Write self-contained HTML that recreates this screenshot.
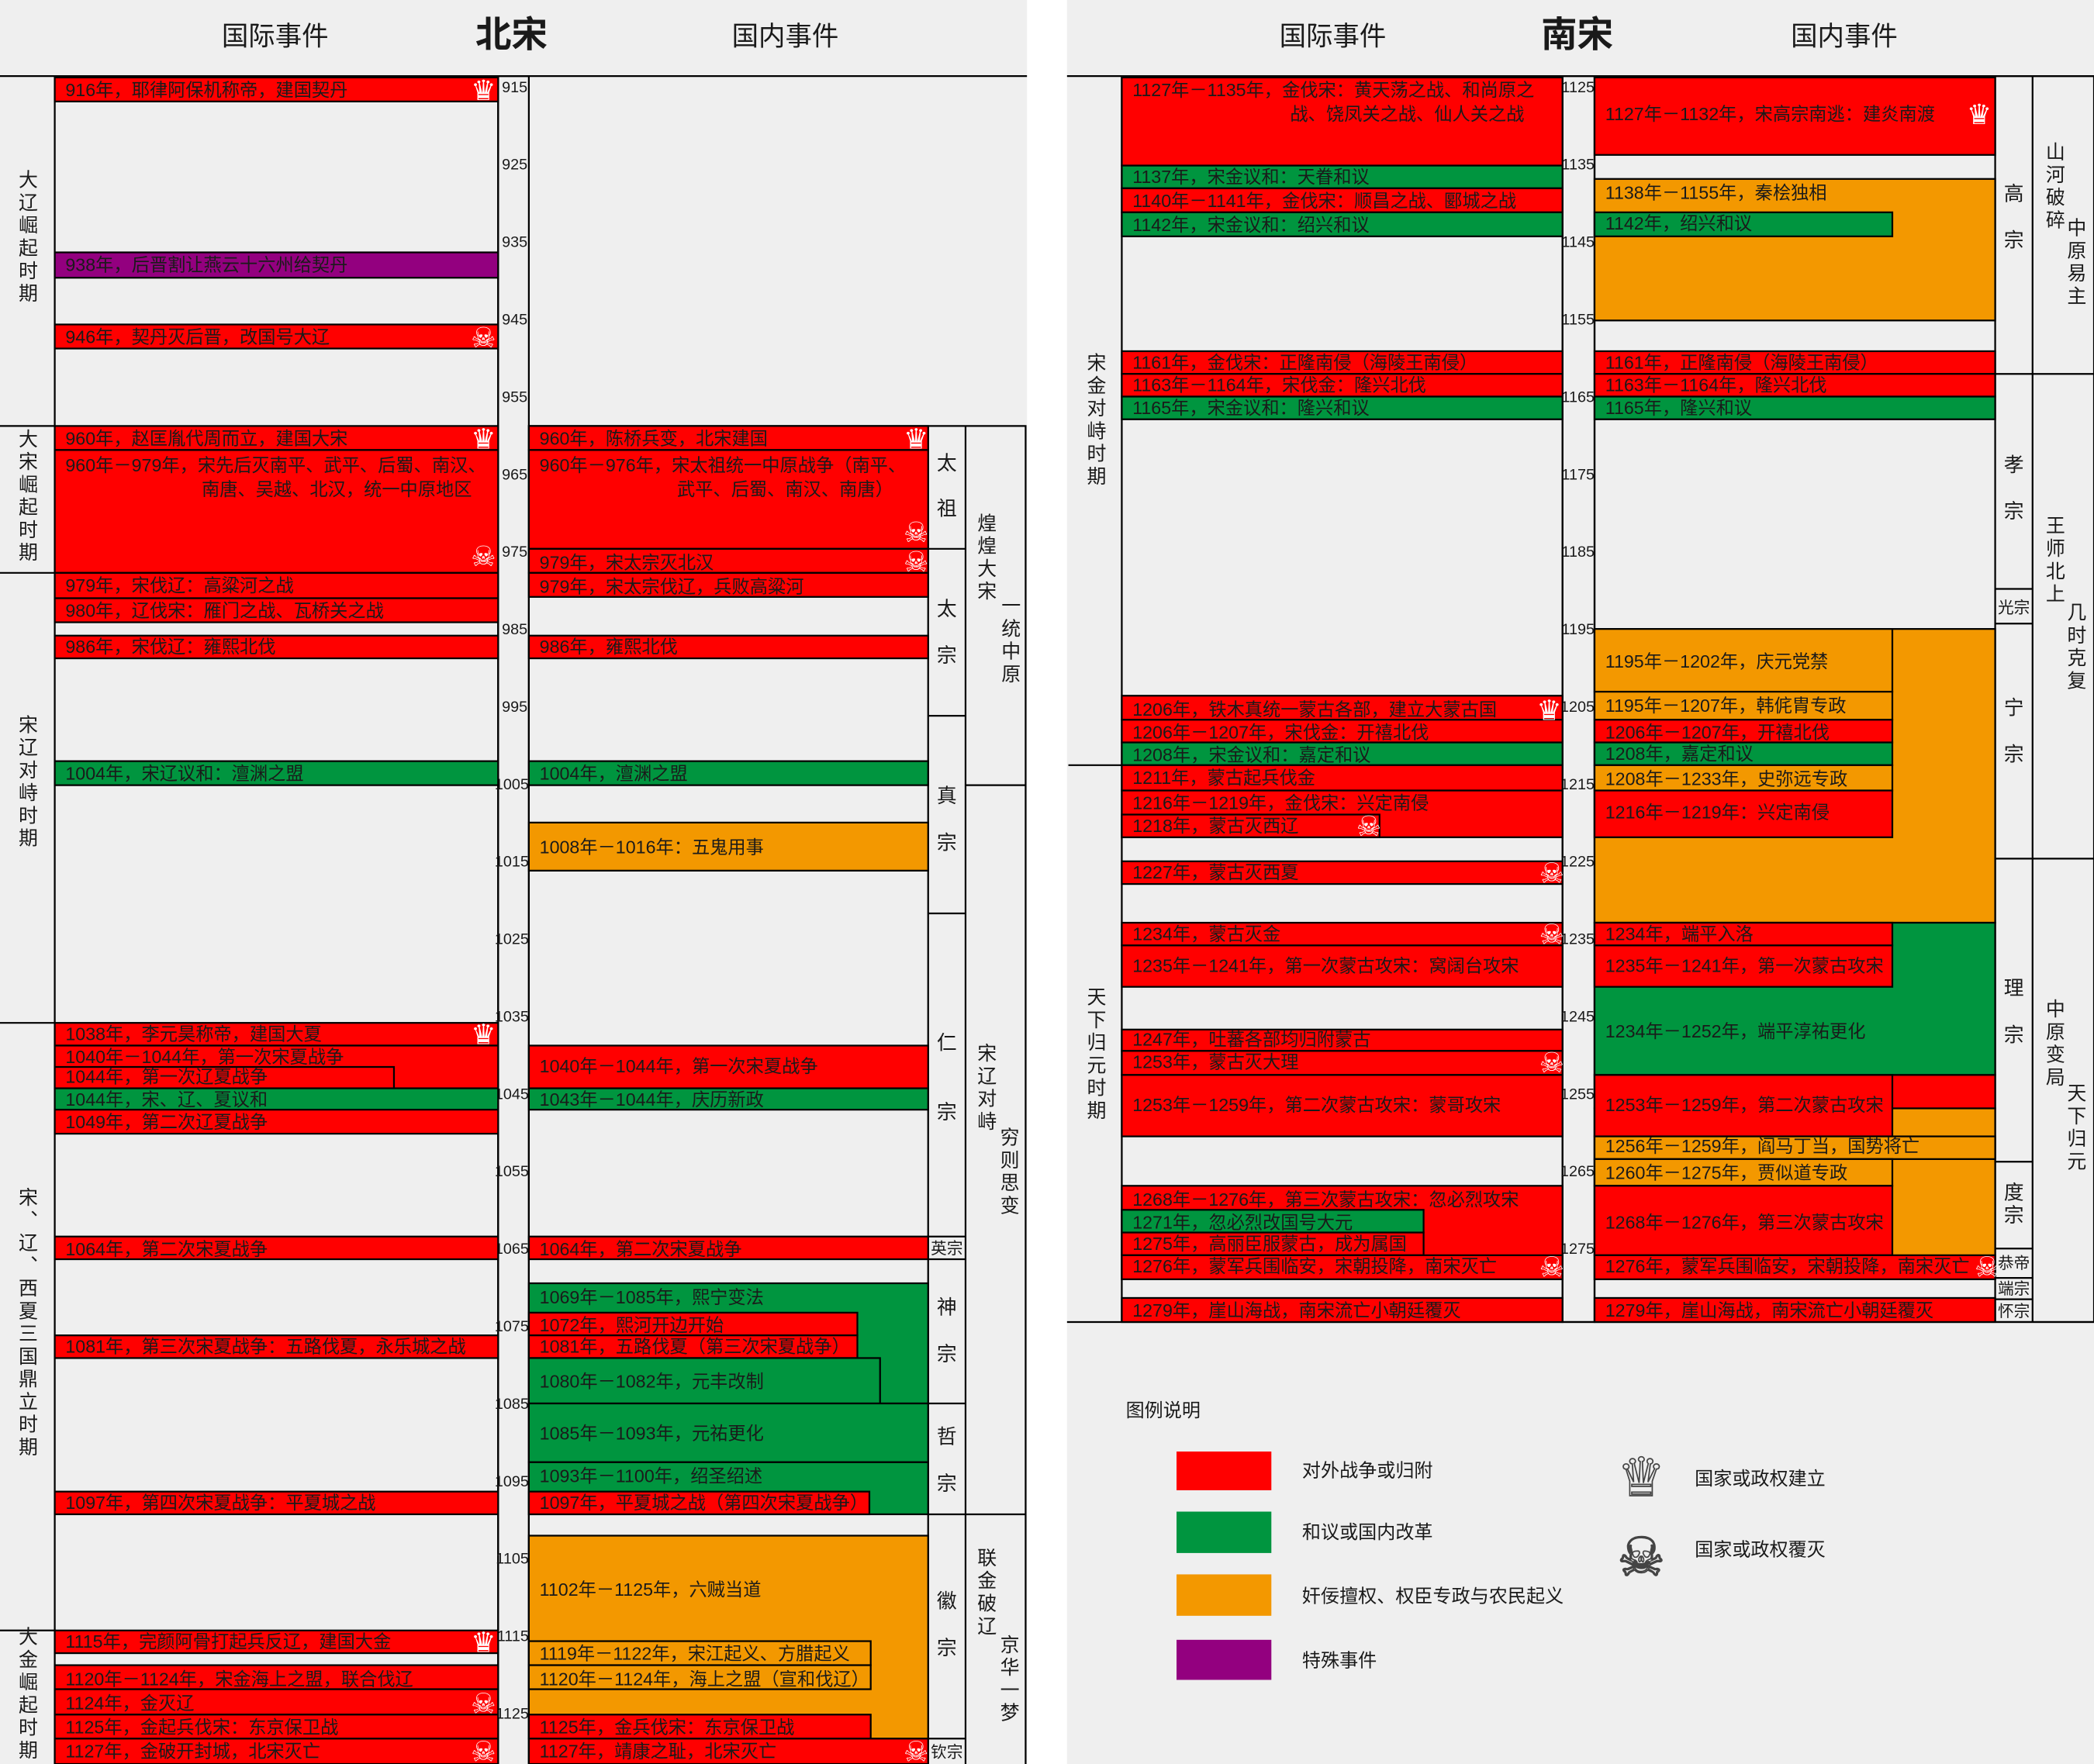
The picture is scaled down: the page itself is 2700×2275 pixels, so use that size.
<!DOCTYPE html>
<html><head><meta charset="utf-8"><style>
html,body{margin:0;padding:0;background:#efefef;}
svg{display:block;}
text{font-family:"Liberation Sans","Noto Sans CJK SC",sans-serif;fill:#1a1a1a;font-size:13.5px;}
.r{fill:#ff0000;stroke:#000;stroke-width:1.3}
.g{fill:#00953f;stroke:#000;stroke-width:1.3}
.o{fill:#f39800;stroke:#000;stroke-width:1.3}
.p{fill:#93007f;stroke:#000;stroke-width:1.3}
.b{fill:none;stroke:#000;stroke-width:1.3}
.ax text{font-size:11.5px;text-anchor:end}
.v{writing-mode:tb;text-anchor:middle;font-size:14.5px;letter-spacing:2.5px}
.e{font-size:15px;text-anchor:middle}
.h{font-size:20px;text-anchor:middle}
.t{font-size:27px;font-weight:bold;text-anchor:middle}
.ic text{fill:#fff;font-family:"DejaVu Sans",sans-serif;font-size:21px;text-anchor:middle}
.sm{font-size:12px;text-anchor:middle}
</style></head><body>
<svg width="2700" height="2275" viewBox="0 0 1568 1321" preserveAspectRatio="none" xmlns="http://www.w3.org/2000/svg">
<rect x="0" y="0" width="1568" height="1321" fill="#efefef"/>
<rect x="769" y="0" width="30" height="1321" fill="#fff"/>
<text class="h" x="206" y="34">国际事件</text><text class="t" x="383" y="35">北宋</text><text class="h" x="588" y="34">国内事件</text>
<text class="h" x="998" y="34">国际事件</text><text class="t" x="1181" y="35">南宋</text><text class="h" x="1381" y="34">国内事件</text>
<line x1="0" y1="57" x2="769" y2="57" stroke="#000" stroke-width="1.3"/>
<line x1="799" y1="57" x2="1568" y2="57" stroke="#000" stroke-width="1.3"/>

<rect class="b" x="41" y="57" width="332" height="1265"/>
<rect class="b" x="373" y="57" width="23" height="1265"/>
<rect class="b" x="396" y="319" width="372" height="1003"/>
<line x1="695" y1="319" x2="695" y2="1321" stroke="#000" stroke-width="1.3"/>
<line x1="723" y1="319" x2="723" y2="1321" stroke="#000" stroke-width="1.3"/>
<g stroke="#000" stroke-width="1.3">
<line x1="0" y1="319" x2="41" y2="319"/><line x1="0" y1="429" x2="41" y2="429"/><line x1="0" y1="766" x2="41" y2="766"/><line x1="0" y1="1221" x2="41" y2="1221"/>
<line x1="695" y1="411" x2="723" y2="411"/><line x1="695" y1="536" x2="723" y2="536"/><line x1="695" y1="684" x2="723" y2="684"/><line x1="695" y1="926" x2="723" y2="926"/><line x1="695" y1="943" x2="723" y2="943"/><line x1="695" y1="1051" x2="723" y2="1051"/><line x1="695" y1="1134" x2="723" y2="1134"/><line x1="695" y1="1302" x2="723" y2="1302"/>
<line x1="723" y1="588" x2="768" y2="588"/><line x1="723" y1="1134" x2="768" y2="1134"/>
</g>
<text class="v" x="20" y="178">大辽崛起时期</text>
<text class="v" x="20" y="372">大宋崛起时期</text>
<text class="v" x="20" y="586">宋辽对峙时期</text>
<text class="v" x="20" y="991">宋、辽、西夏三国鼎立时期</text>
<text class="v" x="20" y="1269">大金崛起时期</text>
<text class="e" x="709" y="352">太</text><text class="e" x="709" y="386">祖</text>
<text class="e" x="709" y="461">太</text><text class="e" x="709" y="496">宗</text>
<text class="e" x="709" y="601">真</text><text class="e" x="709" y="636">宗</text>
<text class="e" x="709" y="786">仁</text><text class="e" x="709" y="838">宗</text>
<text class="sm" x="709" y="939">英宗</text>
<text class="e" x="709" y="984">神</text><text class="e" x="709" y="1019">宗</text>
<text class="e" x="709" y="1081">哲</text><text class="e" x="709" y="1116">宗</text>
<text class="e" x="709" y="1204">徽</text><text class="e" x="709" y="1239">宗</text>
<text class="sm" x="709" y="1316">钦宗</text>
<text class="v" x="738" y="418">煌煌大宋</text><text class="v" x="756" y="480">一统中原</text>
<text class="v" x="738" y="815">宋辽对峙</text><text class="v" x="755" y="878">穷则思变</text>
<text class="v" x="738" y="1193">联金破辽</text><text class="v" x="755" y="1258">京华一梦</text>
<g class="ax">
<text x="395" y="69">915</text><text x="395" y="127">925</text><text x="395" y="185">935</text><text x="395" y="243">945</text><text x="395" y="301">955</text><text x="395" y="359">965</text><text x="395" y="417">975</text><text x="395" y="475">985</text><text x="395" y="533">995</text><text x="396" y="591">1005</text><text x="396" y="649">1015</text><text x="396" y="707">1025</text><text x="396" y="765">1035</text><text x="396" y="823">1045</text><text x="396" y="881">1055</text><text x="396" y="939">1065</text><text x="396" y="997">1075</text><text x="396" y="1055">1085</text><text x="396" y="1113">1095</text><text x="396" y="1171">1105</text><text x="396" y="1229">1115</text><text x="396" y="1287">1125</text>
</g>

<rect class="r" x="41" y="58" width="332" height="18"/><text x="49" y="72">916年，耶律阿保机称帝，建国契丹</text>
<rect class="p" x="41" y="189" width="332" height="19"/><text x="49" y="203">938年，后晋割让燕云十六州给契丹</text>
<rect class="r" x="41" y="243" width="332" height="18"/><text x="49" y="257">946年，契丹灭后晋，改国号大辽</text>
<rect class="r" x="41" y="319" width="332" height="18"/><text x="49" y="333">960年，赵匡胤代周而立，建国大宋</text>
<rect class="r" x="41" y="337" width="332" height="92"/><text x="49" y="353">960年－979年，宋先后灭南平、武平、后蜀、南汉、</text><text x="151" y="371">南唐、吴越、北汉，统一中原地区</text>
<rect class="r" x="41" y="429" width="332" height="19"/><text x="49" y="443">979年，宋伐辽：高粱河之战</text>
<rect class="r" x="41" y="448" width="332" height="18"/><text x="49" y="462">980年，辽伐宋：雁门之战、瓦桥关之战</text>
<rect class="r" x="41" y="476" width="332" height="17"/><text x="49" y="489">986年，宋伐辽：雍熙北伐</text>
<rect class="g" x="41" y="570" width="332" height="18"/><text x="49" y="584">1004年，宋辽议和：澶渊之盟</text>
<rect class="r" x="41" y="766" width="332" height="17"/><text x="49" y="779">1038年，李元昊称帝，建国大夏</text>
<rect class="r" x="41" y="783" width="332" height="32"/><text x="49" y="796">1040年－1044年，第一次宋夏战争</text>
<rect class="r" x="41" y="799" width="254" height="16"/><text x="49" y="811">1044年，第一次辽夏战争</text>
<rect class="g" x="41" y="815" width="332" height="16"/><text x="49" y="828">1044年，宋、辽、夏议和</text>
<rect class="r" x="41" y="831" width="332" height="18"/><text x="49" y="845">1049年，第二次辽夏战争</text>
<rect class="r" x="41" y="926" width="332" height="17"/><text x="49" y="940">1064年，第二次宋夏战争</text>
<rect class="r" x="41" y="1000" width="332" height="17"/><text x="49" y="1013">1081年，第三次宋夏战争：五路伐夏，永乐城之战</text>
<rect class="r" x="41" y="1117" width="332" height="17"/><text x="49" y="1130">1097年，第四次宋夏战争：平夏城之战</text>
<rect class="r" x="41" y="1221" width="332" height="17"/><text x="49" y="1234">1115年，完颜阿骨打起兵反辽，建国大金</text>
<rect class="r" x="41" y="1247" width="332" height="18"/><text x="49" y="1262">1120年－1124年，宋金海上之盟，联合伐辽</text>
<rect class="r" x="41" y="1265" width="332" height="19"/><text x="49" y="1280">1124年，金灭辽</text>
<rect class="r" x="41" y="1284" width="332" height="18"/><text x="49" y="1298">1125年，金起兵伐宋：东京保卫战</text>
<rect class="r" x="41" y="1302" width="332" height="19"/><text x="49" y="1316">1127年，金破开封城，北宋灭亡</text>

<rect class="r" x="396" y="319" width="299" height="18"/><text x="404" y="333">960年，陈桥兵变，北宋建国</text>
<rect class="r" x="396" y="337" width="299" height="74"/><text x="404" y="353">960年－976年，宋太祖统一中原战争（南平、</text><text x="507" y="371">武平、后蜀、南汉、南唐）</text>
<rect class="r" x="396" y="411" width="299" height="18"/><text x="404" y="426">979年，宋太宗灭北汉</text>
<rect class="r" x="396" y="429" width="299" height="18"/><text x="404" y="444">979年，宋太宗伐辽，兵败高粱河</text>
<rect class="r" x="396" y="476" width="299" height="17"/><text x="404" y="489">986年，雍熙北伐</text>
<rect class="g" x="396" y="570" width="299" height="18"/><text x="404" y="584">1004年，澶渊之盟</text>
<rect class="o" x="396" y="616" width="299" height="36"/><text x="404" y="639">1008年－1016年：五鬼用事</text>
<rect class="r" x="396" y="783" width="299" height="32"/><text x="404" y="803">1040年－1044年，第一次宋夏战争</text>
<rect class="g" x="396" y="815" width="299" height="16"/><text x="404" y="828">1043年－1044年，庆历新政</text>
<rect class="r" x="396" y="926" width="299" height="17"/><text x="404" y="940">1064年，第二次宋夏战争</text>
<rect class="g" x="396" y="961" width="299" height="90"/><text x="404" y="976">1069年－1085年，熙宁变法</text>
<rect class="r" x="396" y="983" width="246" height="17"/><text x="404" y="997">1072年，熙河开边开始</text>
<rect class="r" x="396" y="1000" width="246" height="17"/><text x="404" y="1013">1081年，五路伐夏（第三次宋夏战争）</text>
<rect class="g" x="396" y="1017" width="263" height="34"/><text x="404" y="1039">1080年－1082年，元丰改制</text>
<rect class="g" x="396" y="1051" width="299" height="44"/><text x="404" y="1078">1085年－1093年，元祐更化</text>
<rect class="g" x="396" y="1095" width="299" height="39"/><text x="404" y="1110">1093年－1100年，绍圣绍述</text>
<rect class="r" x="396" y="1117" width="255" height="17"/><text x="404" y="1130">1097年，平夏城之战（第四次宋夏战争）</text>
<rect class="o" x="396" y="1150" width="299" height="152"/><text x="404" y="1195">1102年－1125年，六贼当道</text>
<rect class="o" x="396" y="1229" width="256" height="18"/><text x="404" y="1243">1119年－1122年，宋江起义、方腊起义</text>
<rect class="o" x="396" y="1247" width="256" height="18"/><text x="404" y="1262">1120年－1124年，海上之盟（宣和伐辽）</text>
<rect class="r" x="396" y="1284" width="256" height="18"/><text x="404" y="1298">1125年，金兵伐宋：东京保卫战</text>
<rect class="r" x="396" y="1302" width="299" height="19"/><text x="404" y="1316">1127年，靖康之耻，北宋灭亡</text>

<rect class="b" x="840" y="57" width="330" height="933"/>
<rect class="b" x="1170" y="57" width="24" height="933"/>
<rect class="b" x="1194" y="57" width="374" height="933"/>
<line x1="1494" y1="57" x2="1494" y2="990" stroke="#000" stroke-width="1.3"/>
<line x1="1522" y1="57" x2="1522" y2="990" stroke="#000" stroke-width="1.3"/>
<line x1="799" y1="990" x2="1568" y2="990" stroke="#000" stroke-width="1.3"/>
<g stroke="#000" stroke-width="1.3">
<line x1="800" y1="573" x2="840" y2="573"/>
<line x1="1494" y1="280" x2="1522" y2="280"/><line x1="1494" y1="441" x2="1522" y2="441"/><line x1="1494" y1="467" x2="1522" y2="467"/><line x1="1494" y1="643" x2="1522" y2="643"/><line x1="1494" y1="870" x2="1522" y2="870"/><line x1="1494" y1="935" x2="1522" y2="935"/><line x1="1494" y1="957" x2="1522" y2="957"/><line x1="1494" y1="973" x2="1522" y2="973"/>
<line x1="1522" y1="280" x2="1568" y2="280"/><line x1="1522" y1="643" x2="1568" y2="643"/>
</g>
<text class="v" x="820" y="315">宋金对峙时期</text>
<text class="v" x="820" y="790">天下归元时期</text>
<text class="e" x="1508" y="150">高</text><text class="e" x="1508" y="185">宗</text>
<text class="e" x="1508" y="353">孝</text><text class="e" x="1508" y="388">宗</text>
<text class="sm" x="1508" y="459">光宗</text>
<text class="e" x="1508" y="535">宁</text><text class="e" x="1508" y="570">宗</text>
<text class="e" x="1508" y="745">理</text><text class="e" x="1508" y="780">宗</text>
<text class="e" x="1508" y="898">度</text><text class="e" x="1508" y="915">宗</text>
<text class="sm" x="1508" y="950">恭帝</text><text class="sm" x="1508" y="969">端宗</text><text class="sm" x="1508" y="986">怀宗</text>
<text class="v" x="1538" y="140">山河破碎</text><text class="v" x="1554" y="197">中原易主</text>
<text class="v" x="1538" y="420">王师北上</text><text class="v" x="1554" y="485">几时克复</text>
<text class="v" x="1538" y="782">中原变局</text><text class="v" x="1554" y="845">天下归元</text>
<g class="ax">
<text x="1194" y="69">1125</text><text x="1194" y="127">1135</text><text x="1194" y="185">1145</text><text x="1194" y="243">1155</text><text x="1194" y="301">1165</text><text x="1194" y="359">1175</text><text x="1194" y="417">1185</text><text x="1194" y="475">1195</text><text x="1194" y="533">1205</text><text x="1194" y="591">1215</text><text x="1194" y="649">1225</text><text x="1194" y="707">1235</text><text x="1194" y="765">1245</text><text x="1194" y="823">1255</text><text x="1194" y="881">1265</text><text x="1194" y="939">1275</text>
</g>

<rect class="r" x="840" y="58" width="330" height="66"/><text x="848" y="72">1127年－1135年，金伐宋：黄天荡之战、和尚原之</text><text x="966" y="90">战、饶凤关之战、仙人关之战</text>
<rect class="g" x="840" y="124" width="330" height="17"/><text x="848" y="137">1137年，宋金议和：天眷和议</text>
<rect class="r" x="840" y="141" width="330" height="18"/><text x="848" y="155">1140年－1141年，金伐宋：顺昌之战、郾城之战</text>
<rect class="g" x="840" y="159" width="330" height="18"/><text x="848" y="173">1142年，宋金议和：绍兴和议</text>
<rect class="r" x="840" y="263" width="330" height="17"/><text x="848" y="276">1161年，金伐宋：正隆南侵（海陵王南侵）</text>
<rect class="r" x="840" y="280" width="330" height="17"/><text x="848" y="293">1163年－1164年，宋伐金：隆兴北伐</text>
<rect class="g" x="840" y="297" width="330" height="17"/><text x="848" y="310">1165年，宋金议和：隆兴和议</text>
<rect class="r" x="840" y="521" width="330" height="18"/><text x="848" y="536">1206年，铁木真统一蒙古各部，建立大蒙古国</text>
<rect class="r" x="840" y="539" width="330" height="17"/><text x="848" y="553">1206年－1207年，宋伐金：开禧北伐</text>
<rect class="g" x="840" y="556" width="330" height="17"/><text x="848" y="570">1208年，宋金议和：嘉定和议</text>
<rect class="r" x="840" y="573" width="330" height="19"/><text x="848" y="587">1211年，蒙古起兵伐金</text>
<rect class="r" x="840" y="592" width="330" height="35"/><text x="848" y="606">1216年－1219年，金伐宋：兴定南侵</text>
<rect class="r" x="840" y="610" width="193" height="17"/><text x="848" y="623">1218年，蒙古灭西辽</text>
<rect class="r" x="840" y="645" width="330" height="17"/><text x="848" y="658">1227年，蒙古灭西夏</text>
<rect class="r" x="840" y="691" width="330" height="17"/><text x="848" y="704">1234年，蒙古灭金</text>
<rect class="r" x="840" y="708" width="330" height="31"/><text x="848" y="728">1235年－1241年，第一次蒙古攻宋：窝阔台攻宋</text>
<rect class="r" x="840" y="771" width="330" height="16"/><text x="848" y="783">1247年，吐蕃各部均归附蒙古</text>
<rect class="r" x="840" y="787" width="330" height="18"/><text x="848" y="800">1253年，蒙古灭大理</text>
<rect class="r" x="840" y="805" width="330" height="46"/><text x="848" y="832">1253年－1259年，第二次蒙古攻宋：蒙哥攻宋</text>
<rect class="r" x="840" y="888" width="330" height="70"/><text x="848" y="903">1268年－1276年，第三次蒙古攻宋：忽必烈攻宋</text>
<rect class="g" x="840" y="906" width="226" height="17"/><text x="848" y="920">1271年，忽必烈改国号大元</text>
<rect class="r" x="840" y="923" width="226" height="17"/><text x="848" y="936">1275年，高丽臣服蒙古，成为属国</text>
<rect class="r" x="840" y="940" width="330" height="18"/><text x="848" y="953">1276年，蒙军兵围临安，宋朝投降，南宋灭亡</text>
<rect class="r" x="840" y="972" width="330" height="18"/><text x="848" y="986">1279年，崖山海战，南宋流亡小朝廷覆灭</text>

<rect class="r" x="1194" y="58" width="300" height="58"/><text x="1202" y="90">1127年－1132年，宋高宗南逃：建炎南渡</text>
<rect class="o" x="1194" y="134" width="300" height="106"/><text x="1202" y="149">1138年－1155年，秦桧独相</text>
<rect class="g" x="1194" y="159" width="223" height="18"/><text x="1202" y="172">1142年，绍兴和议</text>
<rect class="r" x="1194" y="263" width="300" height="17"/><text x="1202" y="276">1161年，正隆南侵（海陵王南侵）</text>
<rect class="r" x="1194" y="280" width="300" height="17"/><text x="1202" y="293">1163年－1164年，隆兴北伐</text>
<rect class="g" x="1194" y="297" width="300" height="17"/><text x="1202" y="310">1165年，隆兴和议</text>
<rect class="o" x="1194" y="471" width="300" height="220"/>
<rect class="o" x="1194" y="471" width="223" height="47"/><text x="1202" y="500">1195年－1202年，庆元党禁</text>
<rect class="o" x="1194" y="518" width="223" height="21"/><text x="1202" y="533">1195年－1207年，韩侂胄专政</text>
<rect class="r" x="1194" y="539" width="223" height="17"/><text x="1202" y="553">1206年－1207年，开禧北伐</text>
<rect class="g" x="1194" y="556" width="223" height="17"/><text x="1202" y="569">1208年，嘉定和议</text>
<rect class="o" x="1194" y="573" width="223" height="19"/><text x="1202" y="588">1208年－1233年，史弥远专政</text>
<rect class="r" x="1194" y="592" width="223" height="35"/><text x="1202" y="613">1216年－1219年：兴定南侵</text>
<rect class="g" x="1194" y="691" width="300" height="114"/><text x="1202" y="777">1234年－1252年，端平淳祐更化</text>
<rect class="r" x="1194" y="691" width="223" height="17"/><text x="1202" y="704">1234年，端平入洛</text>
<rect class="r" x="1194" y="708" width="223" height="31"/><text x="1202" y="728">1235年－1241年，第一次蒙古攻宋</text>
<rect class="o" x="1194" y="830" width="300" height="128"/>
<rect class="r" x="1194" y="805" width="300" height="25"/>
<rect class="r" x="1194" y="805" width="223" height="46"/><text x="1202" y="832">1253年－1259年，第二次蒙古攻宋</text>
<rect class="o" x="1194" y="851" width="300" height="17"/><text x="1202" y="863">1256年－1259年，阎马丁当，国势将亡</text>
<rect class="o" x="1194" y="868" width="223" height="20"/><text x="1202" y="883">1260年－1275年，贾似道专政</text>
<rect class="r" x="1194" y="888" width="223" height="52"/><text x="1202" y="920">1268年－1276年，第三次蒙古攻宋</text>
<rect class="r" x="1194" y="940" width="300" height="18"/><text x="1202" y="953">1276年，蒙军兵围临安，宋朝投降，南宋灭亡</text>
<rect class="r" x="1194" y="972" width="300" height="18"/><text x="1202" y="986">1279年，崖山海战，南宋流亡小朝廷覆灭</text>

<g class="ic">
<text x="362" y="75">♛</text><text x="362" y="260">☠</text><text x="362" y="336">♛</text><text x="362" y="424">☠</text><text x="362" y="782">♛</text><text x="362" y="1237">♛</text><text x="362" y="1283">☠</text><text x="362" y="1319">☠</text>
<text x="686" y="336">♛</text><text x="686" y="406">☠</text><text x="686" y="428">☠</text><text x="686" y="1319">☠</text>
<text x="1482" y="93">♛</text><text x="1160" y="539">♛</text><text x="1025" y="626">☠</text><text x="1162" y="661">☠</text><text x="1162" y="707">☠</text><text x="1162" y="803">☠</text><text x="1162" y="956">☠</text><text x="1488" y="956">☠</text>
</g>

<text x="843" y="1061" style="font-size:14px">图例说明</text>
<rect x="881" y="1087" width="71" height="29" fill="#ff0000"/><text x="975" y="1106" style="font-size:14px">对外战争或归附</text>
<rect x="881" y="1132" width="71" height="31" fill="#00953f"/><text x="975" y="1152" style="font-size:14px">和议或国内改革</text>
<rect x="881" y="1179" width="71" height="31" fill="#f39800"/><text x="975" y="1200" style="font-size:14px">奸佞擅权、权臣专政与农民起义</text>
<rect x="881" y="1228" width="71" height="30" fill="#93007f"/><text x="975" y="1248" style="font-size:14px">特殊事件</text>
<text x="1229" y="1120" style="font-family:'DejaVu Sans',sans-serif;font-size:40px;text-anchor:middle;fill:#efefef;stroke:#444;stroke-width:1">♛</text>
<text x="1269" y="1112" style="font-size:14px">国家或政权建立</text>
<text x="1229" y="1180" style="font-family:'DejaVu Sans',sans-serif;font-size:40px;text-anchor:middle;fill:#efefef;stroke:#444;stroke-width:1">☠</text>
<text x="1269" y="1165" style="font-size:14px">国家或政权覆灭</text>
</svg>
</body></html>
